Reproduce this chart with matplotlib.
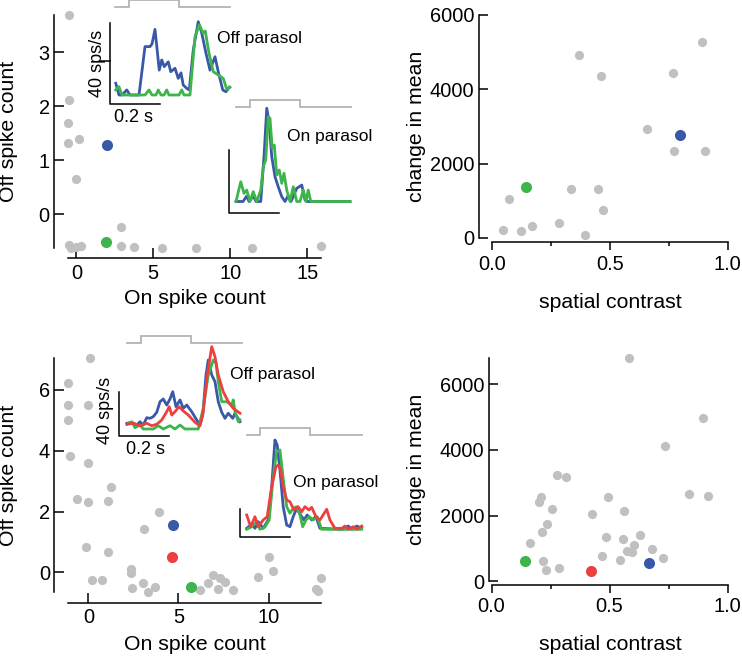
import matplotlib
matplotlib.use('Agg')
import matplotlib.pyplot as plt

plt.rcParams['font.family'] = ['Liberation Sans', 'DejaVu Sans']

# ---------------- scatter data ----------------
# top-left: On vs Off spike counts
tl_on_gray = [-0.48, -0.48, -0.56, -0.56, 0.17, -0.02, -0.45, -0.35, 0.0, 0.3,
              2.9, 2.9, 3.77, 5.58, 7.75, 11.4, 15.87]
tl_off_gray = [3.69, 2.11, 1.69, 1.32, 1.39, 0.65, -0.57, -0.63, -0.6, -0.58,
               -0.23, -0.58, -0.60, -0.62, -0.62, -0.62, -0.59]
tl_blue = (1.97, 1.28)
tl_green = (1.93, -0.51)

# top-right: spatial contrast vs change in mean
tr_sc_gray = [0.371, 0.463, 0.893, 0.767, 0.657, 0.774, 0.904, 0.075, 0.338, 0.449,
              0.473, 0.047, 0.124, 0.172, 0.287, 0.397]
tr_dm_gray = [4925, 4370, 5266, 4442, 2937, 2337, 2346, 1048, 1307, 1307,
              761, 206, 179, 331, 403, 81]
tr_blue = (0.799, 2758)
tr_green = (0.144, 1361)

# bottom-left
bl_on_gray = [0.09, -1.15, -1.15, -0.04, -1.15, -1.02, 0.0, -0.65, -0.04, 1.24,
              1.07, 3.94, 3.11, -0.15, 1.07, 0.22, 0.74, 2.37, 2.37, 2.40,
              3.05, 3.33, 3.70, 6.19, 6.65, 6.93, 7.30, 7.58, 7.21, 8.04,
              9.39, 10.04, 10.26, 12.88, 12.62, 12.75]
bl_off_gray = [7.06, 6.22, 5.50, 5.50, 5.01, 3.83, 3.61, 2.41, 2.30, 2.80,
               2.36, 2.00, 1.41, 0.83, 0.66, -0.24, -0.24, 0.11, -0.03, -0.53,
               -0.36, -0.64, -0.49, -0.58, -0.36, -0.09, -0.20, -0.31, -0.56, -0.58,
               -0.14, 0.52, 0.05, -0.20, -0.56, -0.60]
bl_blue = (4.68, 1.56)
bl_red = (4.66, 0.50)
bl_green = (5.67, -0.47)

# bottom-right
br_sc_gray = [0.580, 0.894, 0.734, 0.838, 0.915, 0.275, 0.315, 0.209, 0.202, 0.257,
              0.494, 0.424, 0.562, 0.233, 0.212, 0.164, 0.484, 0.558, 0.628, 0.603,
              0.572, 0.596, 0.678, 0.468, 0.544, 0.725, 0.219, 0.229, 0.285]
br_dm_gray = [6792, 4985, 4122, 2650, 2609, 3239, 3188, 2579, 2406, 2203,
              2579, 2051, 2142, 1746, 1513, 1168, 1340, 1279, 1411, 1096,
              934, 904, 985, 761, 660, 701, 619, 345, 416]
br_green = (0.141, 629)
br_red = (0.421, 325)
br_blue = (0.668, 569)

# ---------------- PSTH traces (time ms, rate sps/s) ----------------
A_blue_t = [3, 16, 28, 47, 60, 96, 120, 140, 148, 160, 177, 187, 197, 213, 223, 240, 253, 264,
            273, 287, 297, 313, 333, 347, 364, 380, 400, 413, 431, 444, 457]
A_blue_r = [5.8, 0, 0, 2.5, 0, 0, 23.9, 23.9, 25.2, 32.4, 12.3, 17.3, 14.0, 16.4, 11.5, 13.2, 8.2,
            10.9, 4.9, 3.3, 2.5, 22.2, 36.2, 30.6, 20.6, 12.3, 18.9, 11.5, 2.5, 1.6, 3.8]
A_green_t = [3, 16, 28, 120, 136, 148, 164, 173, 184, 196, 207, 216, 256, 267, 276, 300,
             320, 337, 353, 361, 376, 393, 413, 433, 447, 460]
A_green_r = [2.5, 4.1, 0, 0, 2.5, 0, 0, 2.5, 0, 0, 2.5, 0, 0, 2.5, 0, 0,
             28.8, 34.6, 30.6, 31.6, 20.7, 11.5, 9.9, 8.2, 2.8, 3.8]

B_blue_t = [0, 28, 43, 52, 69, 80, 99, 112, 123, 133, 143, 156, 169, 183, 196, 208, 220,
            243, 263, 276, 284, 456]
B_blue_r = [0, 0, 3.5, 0, 3.5, 0, 0, 28.6, 59.5, 49.9, 28.6, 15.8, 9.4, 3.1, 0, 3.5, 0,
            8.4, 10.5, 1.0, 0, 0]
B_green_t = [0, 19, 32, 43, 56, 69, 83, 99, 109, 119, 129, 136, 145, 153, 163, 173, 183,
             192, 203, 216, 229, 243, 256, 269, 280, 289, 299, 456]
B_green_r = [0, 12.6, 5.2, 7.3, 0, 6.3, 0, 7.3, 22.2, 26.5, 54.1, 53.1, 33.9, 36.0, 16.9,
             20.1, 11.6, 18.0, 7.3, 0, 9.4, 0, 0, 7.3, 0, 7.3, 0, 0]

C_blue_t = [0, 19, 39, 52, 65, 79, 92, 105, 119, 132, 145, 159, 172, 183, 196, 212, 225, 239,
            259, 279, 292, 303, 316, 325, 339, 352, 365, 379, 392, 405, 423, 432, 452]
C_blue_r = [5.2, 6.1, 3.6, 6.6, 3.6, 10.3, 9.7, 11.2, 15.2, 24.8, 27.3, 21.8, 27.3, 33.9,
            20.3, 26.4, 18.8, 21.8, 15.7, 8.2, 3.6, 12.7, 49.1, 62.7, 49.1, 43.0, 24.8,
            15.2, 9.7, 14.3, 9.7, 14.3, 6.6]
C_green_t = [0, 19, 32, 52, 65, 105, 125, 145, 172, 192, 212, 232, 285, 305, 325, 345, 356,
             365, 379, 399, 419, 425, 432, 445, 452]
C_green_r = [4.3, 6.6, 1.2, 3.6, 0, 0, 3.0, 0, 3.0, 0, 3.6, 0, 0, 18.8, 49.1, 62.7, 59.7,
             43.0, 24.8, 24.8, 21.8, 26.4, 15.7, 6.6, 8.2]
C_red_t = [0, 25, 52, 79, 99, 119, 139, 159, 169, 179, 192, 208, 225, 245, 272, 292, 305,
           321, 339, 352, 365, 385, 405, 425, 452]
C_red_r = [4.3, 5.2, 3.0, 5.2, 3.0, 4.3, 8.2, 15.7, 20.3, 12.7, 15.7, 20.3, 16.4, 12.7,
           6.1, 3.0, 15.7, 49.1, 74.8, 65.7, 49.1, 33.9, 24.8, 18.8, 14.3]

D_blue_t = [0, 21, 33, 46, 66, 86, 100, 113, 122, 133, 146, 160, 173, 186, 200, 216, 229,
            242, 260, 277, 293, 385, 406, 421, 440, 460]
D_blue_r = [1.4, 7.6, 1.4, 10.9, 1.4, 13.3, 60.9, 127.6, 120.4, 84.7, 32.3, 6.1, 3.7, 18.0,
            30.0, 20.4, 13.3, 20.4, 13.3, 18.0, 1.4, 0, 4.7, 0, 4.7, 1.4]
D_green_t = [0, 20, 40, 53, 73, 90, 106, 120, 133, 146, 160, 173, 186, 200, 213, 224, 237,
             250, 266, 282, 300, 460]
D_green_r = [0, 3.7, 10.9, 0, 3.3, 13.3, 75.1, 110.9, 113.3, 72.9, 32.3, 22.9, 30.0, 32.3,
             20.4, 3.7, 13.3, 18.0, 13.3, 18.0, 0, 0]
D_red_t = [0, 16, 33, 46, 66, 82, 100, 117, 126, 136, 146, 160, 173, 189, 206, 220, 233,
           249, 260, 277, 293, 320, 333, 353, 381, 393, 406, 426, 440, 460]
D_red_r = [20.4, 3.7, 18.0, 3.7, 13.3, 18.0, 60.9, 89.4, 91.9, 84.7, 60.9, 41.9, 39.4, 27.6,
           32.3, 25.1, 32.3, 27.6, 31.4, 18.0, 13.3, 28.6, 13.3, 1.4, 1.4, 4.7, 0, 3.7, 0, 4.7]

# stimulus timing (ms)
stim_t = [0, 55, 55, 255, 255, 460]
stim_on = [0, 0, 1, 1, 0, 0]
bar_ms = 200
bar_rate = 40

# ---------------- styling ----------------
GRAY = '#c0c0c0'
BLUE = '#3a58a8'
GREEN = '#3db54a'
RED = '#ec4040'
STIMC = '#b4b4b4'

W, H = 742, 657
fig = plt.figure(figsize=(W / 100, H / 100), dpi=100)


def px_axes(left, top, right, bottom):
    return fig.add_axes([left / W, 1 - bottom / H, (right - left) / W, (bottom - top) / H])


def ftext(x, y, s, **kw):
    fig.text(x / W, 1 - y / H, s, **kw)


LBL = 15.3
TCK = 14.4


def style_left(ax, xs, ys):
    for sp in ('top', 'right'):
        ax.spines[sp].set_visible(False)
    ax.spines['left'].set_bounds(min(ys), max(ys))
    ax.spines['bottom'].set_bounds(min(xs), max(xs))
    for sp in ('left', 'bottom'):
        ax.spines[sp].set_linewidth(1.1)
    ax.tick_params(axis='both', direction='in', length=7, width=1.1, labelsize=TCK)
    ax.tick_params(axis='y', pad=3)
    ax.tick_params(axis='x', pad=4)
    ax.patch.set_alpha(0)


def style_right(ax, ybounds):
    for sp in ('top', 'right'):
        ax.spines[sp].set_visible(False)
    ax.spines['left'].set_bounds(*ybounds)
    ax.spines['bottom'].set_bounds(0, 1)
    for sp in ('left', 'bottom'):
        ax.spines[sp].set_linewidth(1.1)
    ax.tick_params(axis='y', direction='in', length=6.5, width=1.1, labelsize=TCK, pad=3.5)
    ax.tick_params(axis='x', which='major', direction='out', length=6, width=1.1,
                   labelsize=TCK, pad=3)
    ax.tick_params(axis='x', which='minor', direction='out', length=3, width=1.1)
    ax.set_xticks([0, 0.5, 1.0])
    ax.set_xticklabels(['0.0', '0.5', '1.0'])
    ax.set_xticks([0.25, 0.75], minor=True)
    ax.set_yticks([0, 2000, 4000, 6000])
    ax.patch.set_alpha(0)


SG, SC = 44, 64

# ---- top-left ----
ax = px_axes(54, 11.5, 324.2, 258)
ax.set_xlim(-1.45, 16.1)
ax.set_ylim(-0.81, 3.75)
ax.scatter(tl_on_gray, tl_off_gray, s=SG, color=GRAY, lw=0, zorder=2, clip_on=False)
ax.scatter(*tl_blue, s=SC, color=BLUE, lw=0, zorder=3, clip_on=False)
ax.scatter(*tl_green, s=SC, color=GREEN, lw=0, zorder=3, clip_on=False)
style_left(ax, tl_on_gray, tl_off_gray)
ax.set_xticks([0, 5, 10, 15])
ax.set_yticks([0, 1, 2, 3])
ftext(9, 131, 'Off spike count', fontsize=LBL, rotation=90, ha='center', va='center')
ftext(195, 299, 'On spike count', fontsize=LBL, ha='center', va='center')

# ---- top-right ----
ax = px_axes(479, 13.1, 730, 242)
ax.set_xlim(-0.054, 1.01)
ax.set_ylim(-108, 6050)
ax.scatter(tr_sc_gray, tr_dm_gray, s=SG, color=GRAY, lw=0, zorder=2, clip_on=False)
ax.scatter(*tr_blue, s=SC, color=BLUE, lw=0, zorder=3, clip_on=False)
ax.scatter(*tr_green, s=SC, color=GREEN, lw=0, zorder=3, clip_on=False)
style_right(ax, (0, 6000))
ftext(417, 126, 'change in mean', fontsize=LBL, rotation=90, ha='center', va='center')
ftext(610, 302, 'spatial contrast', fontsize=LBL, ha='center', va='center')

# ---- bottom-left ----
ax = px_axes(54.3, 355, 324.5, 602.7)
ax.set_xlim(-1.89, 13.1)
ax.set_ylim(-1.0, 7.15)
ax.scatter(bl_on_gray, bl_off_gray, s=SG, color=GRAY, lw=0, zorder=2, clip_on=False)
ax.scatter(*bl_blue, s=SC, color=BLUE, lw=0, zorder=3, clip_on=False)
ax.scatter(*bl_red, s=SC, color=RED, lw=0, zorder=3, clip_on=False)
ax.scatter(*bl_green, s=SC, color=GREEN, lw=0, zorder=3, clip_on=False)
style_left(ax, bl_on_gray, bl_off_gray)
ax.set_xticks([0, 5, 10])
ax.set_yticks([0, 2, 4, 6])
ftext(9, 475, 'Off spike count', fontsize=LBL, rotation=90, ha='center', va='center')
ftext(195, 644, 'On spike count', fontsize=LBL, ha='center', va='center')

# ---- bottom-right ----
ax = px_axes(489, 356.4, 730, 585)
ax.set_xlim(-0.011, 1.01)
ax.set_ylim(-113, 6850)
ax.scatter(br_sc_gray, br_dm_gray, s=SG, color=GRAY, lw=0, zorder=2, clip_on=False)
ax.scatter(*br_green, s=SC, color=GREEN, lw=0, zorder=3, clip_on=False)
ax.scatter(*br_red, s=SC, color=RED, lw=0, zorder=3, clip_on=False)
ax.scatter(*br_blue, s=SC, color=BLUE, lw=0, zorder=3, clip_on=False)
style_right(ax, (0, max(br_dm_gray)))
ftext(417, 469, 'change in mean', fontsize=LBL, rotation=90, ha='center', va='center')
ftext(610, 644, 'spatial contrast', fontsize=LBL, ha='center', va='center')


# ---------------- insets ----------------
def add_inset(t0_px, base_py, bar_px, r_rng, t_rng=(-110, 480)):
    s = bar_px / bar_rate
    left = t0_px + t_rng[0] * 0.25
    right = t0_px + t_rng[1] * 0.25
    top = base_py - r_rng[1] * s
    bottom = base_py - r_rng[0] * s
    a = px_axes(left, top, right, bottom)
    a.set_xlim(*t_rng)
    a.set_ylim(*r_rng)
    a.axis('off')
    a.patch.set_alpha(0)
    return a, s


def draw_stim(a, s, low_px, step_px=6.5):
    lo = low_px / s
    hi = (low_px + step_px) / s
    a.plot(stim_t, [lo + (hi - lo) * v for v in stim_on], color=STIMC, lw=1.3,
           clip_on=False, solid_joinstyle='miter')


def draw_bars(a, corner, extra_tick=None):
    t, r = corner
    a.plot([t, t, t + bar_ms], [r + bar_rate, r, r], color='black', lw=1.1, clip_on=False)
    if extra_tick is not None:
        a.plot([extra_tick[0], t], [extra_tick[1], extra_tick[1]], color='black', lw=1.1,
               clip_on=False)


TW = 2.0
# A: top-left Off parasol
a, s = add_inset(115, 95, 81, (-15, 50))
draw_stim(a, s, 88.3)
draw_bars(a, (-19, -4.4), extra_tick=(-60, 16.8))
a.plot(A_blue_t, A_blue_r, color=BLUE, lw=TW, clip_on=False)
a.plot(A_green_t, A_green_r, color=GREEN, lw=TW, clip_on=False)
ftext(97, 63, '40 sps/s', fontsize=13, rotation=90, ha='center', va='center')
ftext(134, 117, '0.2 s', fontsize=13, ha='center', va='center')
ftext(217, 38, 'Off parasol', fontsize=12.5, ha='left', va='center')

# B: top-left On parasol
a, s = add_inset(236, 201.5, 62.7, (-15, 70))
draw_stim(a, s, 94.8)
draw_bars(a, (-27, -7.1))
a.plot(B_blue_t, B_blue_r, color=BLUE, lw=TW, clip_on=False)
a.plot(B_green_t, B_green_r, color=GREEN, lw=TW, clip_on=False)
ftext(287, 136, 'On parasol', fontsize=12.5, ha='left', va='center')

# C: bottom-left Off parasol
a, s = add_inset(127, 429, 44, (-25, 90))
draw_stim(a, s, 86.3)
draw_bars(a, (-32, -6.1))
a.plot(C_blue_t, C_blue_r, color=BLUE, lw=TW, clip_on=False)
a.plot(C_green_t, C_green_r, color=GREEN, lw=TW, clip_on=False)
a.plot(C_red_t, C_red_r, color=RED, lw=TW, clip_on=False)
ftext(106, 410, '40 sps/s', fontsize=13, rotation=90, ha='center', va='center')
ftext(146, 449, '0.2 s', fontsize=13, ha='center', va='center')
ftext(230, 375, 'Off parasol', fontsize=12.5, ha='left', va='center')

# D: bottom-left On parasol
a, s = add_inset(246.7, 529.3, 28, (-20, 150))
draw_stim(a, s, 94.3)
draw_bars(a, (-27, -11.4))
a.plot(D_blue_t, D_blue_r, color=BLUE, lw=TW, clip_on=False)
a.plot(D_green_t, D_green_r, color=GREEN, lw=TW, clip_on=False)
a.plot(D_red_t, D_red_r, color=RED, lw=TW, clip_on=False)
ftext(293, 482, 'On parasol', fontsize=12.5, ha='left', va='center')

fig.savefig('out.png', dpi=100)
